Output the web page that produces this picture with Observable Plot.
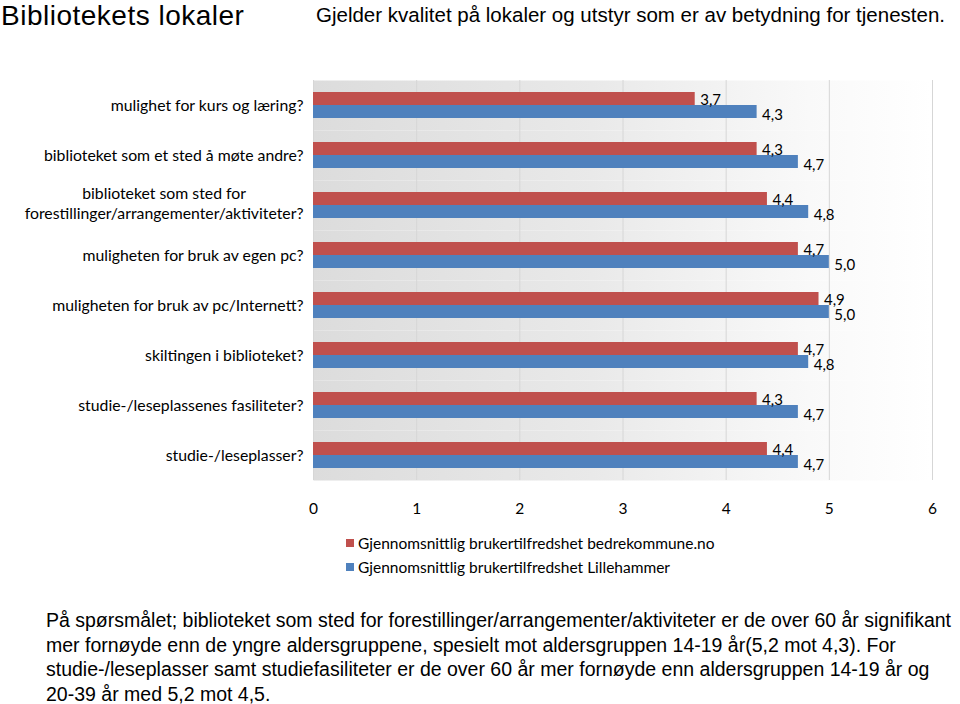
<!DOCTYPE html>
<html>
<head>
<meta charset="utf-8">
<script src="https://cdn.jsdelivr.net/npm/d3@7"></script>
<script src="https://cdn.jsdelivr.net/npm/@observablehq/plot@0.6"></script>
<style>
  html, body { margin: 0; padding: 0; background: #fff; }
  body { width: 960px; height: 704px; position: relative; overflow: hidden; font-family: "Liberation Sans", Arial, sans-serif; color: #000; }
  #title { position: absolute; left: 1px; top: 2px; font-size: 28px; line-height: 28px; letter-spacing: 0.5px; white-space: nowrap; }
  #subtitle { position: absolute; left: 316px; top: 4px; font-size: 20.5px; line-height: 21px; white-space: nowrap; }
  #chart { position: absolute; left: 0; top: 0; }
  #legend { position: absolute; left: 346px; top: 531px; font-family: Lato, sans-serif; font-size: 15.5px; }
  .item { display: flex; align-items: center; height: 24px; white-space: nowrap; }
  .sw { width: 8px; height: 8px; margin-right: 4px; }
  #caption { position: absolute; left: 46px; top: 608px; font-size: 19.5px; line-height: 24.7px; white-space: nowrap; }
</style>
</head>
<body>
<div id="chart"></div>
<div id="title">Bibliotekets lokaler</div>
<div id="subtitle">Gjelder kvalitet på lokaler og utstyr som er av betydning for tjenesten.</div>
<div id="legend"></div>
<div id="caption">På spørsmålet; biblioteket som sted for forestillinger/arrangementer/aktiviteter er de over 60 år signifikant<br>mer fornøyde enn de yngre aldersgruppene, spesielt mot aldersgruppen 14-19 år(5,2 mot 4,3). For<br>studie-/leseplasser samt studiefasiliteter er de over 60 år mer fornøyde enn aldersgruppen 14-19 år og<br>20-39 år med 5,2 mot 4,5.</div>
<script>
// ---- data ----
const categories = [
  "mulighet for kurs og læring?",
  "biblioteket som et sted å møte andre?",
  "biblioteket som sted for\nforestillinger/arrangementer/aktiviteter?",
  "muligheten for bruk av egen pc?",
  "muligheten for bruk av pc/Internett?",
  "skiltingen i biblioteket?",
  "studie-/leseplassenes fasiliteter?",
  "studie-/leseplasser?"
];
const seriesNames = [
  "Gjennomsnittlig brukertilfredshet bedrekommune.no",
  "Gjennomsnittlig brukertilfredshet Lillehammer"
];
const bedrekommune = [3.7, 4.3, 4.4, 4.7, 4.9, 4.7, 4.3, 4.4];
const lillehammer  = [4.3, 4.7, 4.8, 5.0, 5.0, 4.8, 4.7, 4.7];
const xTicks = [0, 1, 2, 3, 4, 5, 6];
const colors = ["#c0504d", "#4f81bd"];

const data = categories.flatMap((c, i) => [
  {category: c, series: seriesNames[0], value: bedrekommune[i]},
  {category: c, series: seriesNames[1], value: lillehammer[i]}
]);
const fmt = v => d3.format(".1f")(v).replace(".", ",");

const labelOpts = {x: "value", y: "series", fy: "category", text: d => fmt(d.value), textAnchor: "start", dx: 5, fontSize: 15, fill: "#000"};

const svg = Plot.plot({
  width: 960,
  height: 522,
  marginLeft: 313,
  marginRight: 28,
  marginTop: 77,
  marginBottom: 40,
  style: {fontFamily: "Lato, sans-serif", fontSize: "15px", color: "#000", background: "transparent", overflow: "visible"},
  x: {domain: [0, 6]},
  y: {domain: seriesNames, paddingInner: 0, paddingOuter: 0.8, axis: null},
  fy: {domain: categories, padding: 0},
  color: {domain: seriesNames, range: colors},
  marks: [
    Plot.frame({fill: "url(#bgGrad)", stroke: "none"}),
    Plot.ruleX(xTicks, {stroke: "#d6d6d6"}),
    Plot.barX(data, {x: "value", y: "series", fy: "category", fill: "series"}),
    Plot.text(data.filter(d => d.series === seriesNames[0]), {...labelOpts, dy: 1}),
    Plot.text(data.filter(d => d.series === seriesNames[1]), {...labelOpts, dy: 3}),
    Plot.axisX({ticks: xTicks, tickFormat: d => String(d), tickSize: 0, tickPadding: 22, label: null, fontSize: 15.5}),
    Plot.axisFy({anchor: "left", tickSize: 0, tickPadding: 10, label: null, fontSize: 15.8})
  ]
});

// background gradient of the plot area
const ns = "http://www.w3.org/2000/svg";
const defs = document.createElementNS(ns, "defs");
defs.innerHTML = `<linearGradient id="bgGrad" x1="0" x2="1" y1="0" y2="0">
  <stop offset="0" stop-color="#dcdcdc"/>
  <stop offset="0.45" stop-color="#e9e9e9"/>
  <stop offset="0.8" stop-color="#f9f9f9"/>
  <stop offset="1" stop-color="#ffffff"/>
</linearGradient>`;
svg.insertBefore(defs, svg.firstChild);
document.getElementById("chart").append(svg);

// centre multi-line category labels and space the lines as in the original
svg.querySelectorAll("text").forEach(t => {
  const spans = t.querySelectorAll("tspan");
  if (spans.length > 1 && t.textContent.includes("forestillinger/")) {
    const lines = Array.from(spans, s => s.textContent);
    while (t.firstChild) t.removeChild(t.firstChild);
    t.removeAttribute("dy");
    t.setAttribute("text-anchor", "middle");
    lines.forEach((l, i) => {
      const s = document.createElementNS(ns, "tspan");
      s.setAttribute("x", "0");
      s.setAttribute("y", i === 0 ? "-7" : "13");
      s.textContent = l;
      t.append(s);
    });
    const bw = t.getBBox().width;
    const tr = t.getAttribute("transform") || "";
    t.setAttribute("transform", `${tr} translate(${-bw / 2},0)`);
  }
});

// legend
const legend = document.getElementById("legend");
seriesNames.forEach((s, i) => {
  const item = document.createElement("div");
  item.className = "item";
  item.innerHTML = `<span class="sw" style="background:${colors[i]}"></span><span>${s}</span>`;
  legend.append(item);
});
</script>
</body>
</html>
